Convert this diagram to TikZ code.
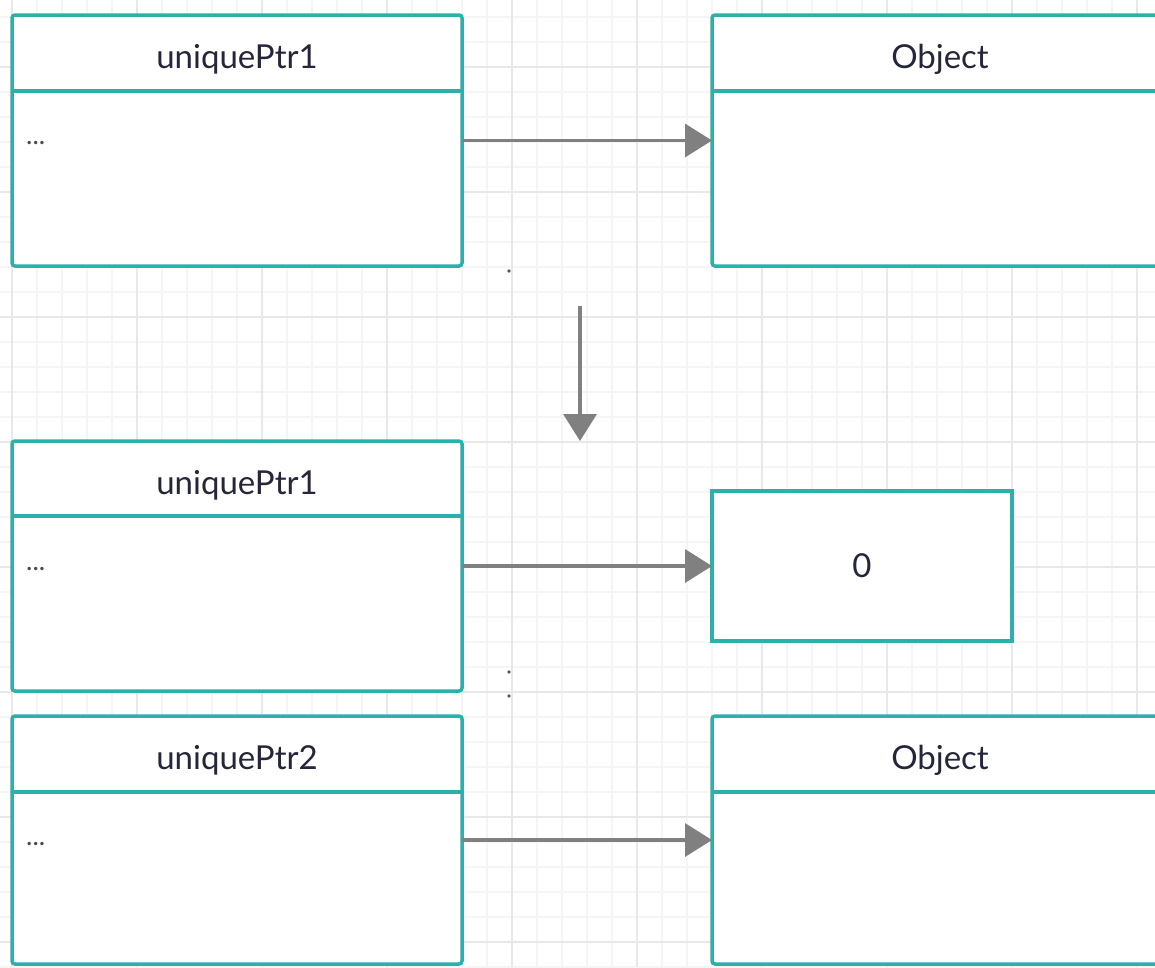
\documentclass[tikz,border=0pt]{standalone}
\usepackage{fontspec}
\setmainfont{Lato}
\usetikzlibrary{arrows.meta,positioning}

\definecolor{boxteal}{RGB}{43,176,170}
\definecolor{linkgray}{RGB}{128,128,128}
\definecolor{inkblue}{RGB}{38,38,58}
\definecolor{gridminor}{RGB}{245,245,245}
\definecolor{gridmajor}{RGB}{232,232,232}

\tikzset{
  ptrbox/.style={draw=boxteal,line width=3.5pt,rounded corners=3pt,fill=white,
    minimum width=450pt,minimum height=251pt,inner sep=0pt,outer sep=0pt,anchor=north west},
  valbox/.style={draw=boxteal,line width=3.5pt,fill=white,minimum width=300pt,
    minimum height=150pt,inner sep=0pt,outer sep=0pt,text=inkblue,
    font=\fontsize{33}{40}\selectfont},
  boxtitle/.style={font=\fontsize{33}{40}\selectfont,text=inkblue,anchor=base,inner sep=0pt},
  boxbody/.style={font=\fontsize{27}{32}\selectfont,text=inkblue!85,anchor=base west,inner sep=0pt},
  headline/.style={draw=boxteal,line width=3.5pt},
  link/.style={draw=linkgray,line width=3.5pt,-{Triangle[length=27pt,width=33pt]}},
}

\begin{document}
\begin{tikzpicture}[x=1pt,y=-1pt]

\useasboundingbox (0,0) rectangle (1155,967);
\clip (0,0) rectangle (1155,967);
\fill[white] (0,0) rectangle (1155,967);

% grid
\foreach \x in {12,37,...,1155} \draw[gridminor,line width=1.5pt] (\x,0) -- (\x,967);
\foreach \y in {17,42,...,967} \draw[gridminor,line width=1.5pt] (0,\y) -- (1155,\y);
\foreach \x in {12,137,...,1155} \draw[gridmajor,line width=1.5pt] (\x,0) -- (\x,967);
\foreach \y in {67,192,...,967} \draw[gridmajor,line width=1.5pt] (0,\y) -- (1155,\y);

\fill[black!65] (509,271) circle (1.8pt)
                (509,672) circle (1.8pt)
                (509,696) circle (1.8pt);

% before the move
\node[ptrbox] (ptrA) at (12,15) {};
\node[ptrbox,minimum width=500pt,right=250pt of ptrA] (objA) {};
\draw[headline] ([yshift=-76pt]ptrA.north west) -- ([yshift=-76pt]ptrA.north east);
\draw[headline] ([yshift=-76pt]objA.north west) -- ([yshift=-76pt]objA.north east);
\node[boxtitle] (ptrAname) at ([yshift=-53pt]ptrA.north) {uniquePtr1};
\node[boxtitle] (objAname) at ([xshift=228pt,yshift=-53pt]objA.north west) {Object};
\node[boxbody] (ptrAbody) at ([xshift=14pt,yshift=-129pt]ptrA.north west) {...};
\draw[link] (ptrA.east) -- (objA.west);

\coordinate (stepTop) at (580,306);
\coordinate (stepEnd) at (580,441);
\draw[link] (stepTop) -- (stepEnd);

% after the move
\node[ptrbox,minimum height=250pt,below=175pt of ptrA] (ptrB) {};
\node[valbox,right=250pt of ptrB] (nullB) {0};
\draw[headline] ([yshift=-75pt]ptrB.north west) -- ([yshift=-75pt]ptrB.north east);
\node[boxtitle] (ptrBname) at ([yshift=-53pt]ptrB.north) {uniquePtr1};
\node[boxbody] (ptrBbody) at ([xshift=14pt,yshift=-129pt]ptrB.north west) {...};
\draw[link] (ptrB.east) -- (nullB.west);

\node[ptrbox,minimum height=248pt,below=25pt of ptrB] (ptrC) {};
\node[ptrbox,minimum width=500pt,minimum height=248pt,right=250pt of ptrC] (objC) {};
\draw[headline] ([yshift=-76pt]ptrC.north west) -- ([yshift=-76pt]ptrC.north east);
\draw[headline] ([yshift=-76pt]objC.north west) -- ([yshift=-76pt]objC.north east);
\node[boxtitle] (ptrCname) at ([yshift=-53pt]ptrC.north) {uniquePtr2};
\node[boxtitle] (objCname) at ([xshift=228pt,yshift=-53pt]objC.north west) {Object};
\node[boxbody] (ptrCbody) at ([xshift=14pt,yshift=-129pt]ptrC.north west) {...};
\draw[link] (ptrC.east) -- (objC.west);

\end{tikzpicture}
\end{document}
